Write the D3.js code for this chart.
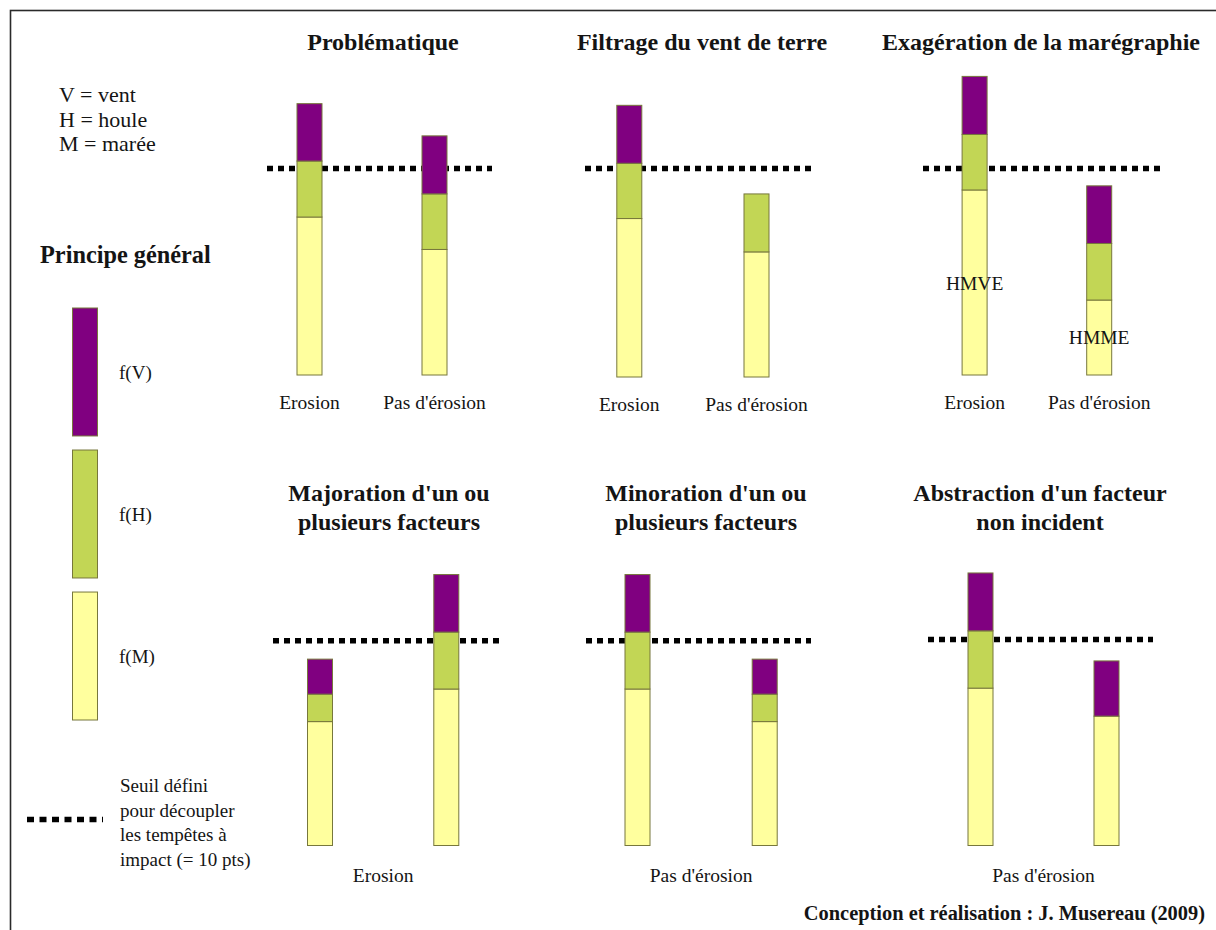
<!DOCTYPE html>
<html>
<head>
<meta charset="utf-8">
<script src="https://cdn.jsdelivr.net/npm/d3@7"></script>
<style>
  html, body { margin: 0; padding: 0; background: #ffffff; }
  svg { display: block; }
</style>
</head>
<body>
<svg id="chart" width="1216" height="930"></svg>
<script>
// ---------------- DATA ----------------
const factors = ["M", "H", "V"];                     // stacking order, bottom to top
const factorNames = ["M = marée", "H = houle", "V = vent"];
const factorFunctions = ["f(M)", "f(H)", "f(V)"];
const barCategories = ["Erosion", "Pas d'érosion"];
const panelTitles = [
  ["Problématique"],
  ["Filtrage du vent de terre"],
  ["Exagération de la marégraphie"],
  ["Majoration d'un ou", "plusieurs facteurs"],
  ["Minoration d'un ou", "plusieurs facteurs"],
  ["Abstraction d'un facteur", "non incident"]
];
// points per factor, per panel, [Erosion bar, Pas d'érosion bar]
const valuesM = [[7.65, 6.08], [7.6, 6.0], [8.96, 3.63], [6.05, 7.64], [7.64, 6.05], [7.64, 6.28]];
const valuesH = [[2.71, 2.69], [2.65, 2.78], [2.69, 2.74], [1.34, 2.78], [2.78, 1.34], [2.78, 0]];
const valuesV = [[2.78, 2.81], [2.78, 0], [2.81, 2.79], [1.71, 2.81], [2.81, 1.71], [2.81, 2.68]];
const threshold = 10;                                // "Seuil ... (= 10 pts)"
const topRowLabels = ["Erosion", "Pas d'érosion"];
const bottomRowLabels = ["Erosion", "Pas d'érosion", "Pas d'érosion"];
const innerLabels = ["HMVE", "HMME"];                // panel 3
const thresholdText = ["Seuil défini", "pour découpler", "les tempêtes à", "impact (= 10 pts)"];
const sideTitle = "Principe général";
const credit = "Conception et réalisation : J. Musereau (2009)";

// ---------------- STYLE / LAYOUT ----------------
const FONT = "'Liberation Serif', 'Times New Roman', Times, 'DejaVu Serif', serif";
const colors = { V: "#800080", H: "#c2d655", M: "#ffff9e" };
const barStroke = "#77773c";
const W = 1216, H = 930;
const barWidth = 25;

// per panel geometry: bar centers, baseline, threshold pixel, dotted-line extent, title centre
const panels = [
  { c: [309.5, 434.5], base: 375, thr: 168.5, line: [267, 492], tx: 383, ty: 50 },
  { c: [629.3, 756.5], base: 377, thr: 168.5, line: [585, 811], tx: 702, ty: 50 },
  { c: [974.6, 1099.2], base: 375, thr: 168.5, line: [923, 1162], tx: 1041, ty: 50 },
  { c: [320, 446.3], base: 845.5, thr: 640.7, line: [273, 499], tx: 389, ty: 501 },
  { c: [637.5, 764.7], base: 845.5, thr: 640.7, line: [586, 811], tx: 706, ty: 501 },
  { c: [980.5, 1106.5], base: 845.5, thr: 639.5, line: [928, 1153], tx: 1040, ty: 501 }
];

const svg = d3.select("#chart")
  .attr("font-family", FONT)
  .style("font-family", FONT);

// frame (top and left edges visible, rest runs off the picture)
svg.append("rect")
  .attr("x", 10.5).attr("y", 10.5)
  .attr("width", W + 20).attr("height", H + 20)
  .attr("fill", "none").attr("stroke", "#2a2a2a").attr("stroke-width", 1.6);

const stack = d3.stack().keys(factors);

function txt(sel) {
  return sel.attr("font-family", FONT).style("font-family", FONT).attr("fill", "#141414");
}

panels.forEach((p, i) => {
  const g = svg.append("g");
  const x = d3.scalePoint().domain(barCategories).range(p.c);
  const y = d3.scaleLinear().domain([0, threshold]).range([p.base, p.thr]);

  // title
  const t = txt(g.append("text"))
    .attr("x", p.tx).attr("y", p.ty)
    .attr("text-anchor", "middle")
    .style("font-weight", "bold").style("font-size", "24px");
  panelTitles[i].forEach((line, k) => {
    t.append("tspan").attr("x", p.tx).attr("dy", k === 0 ? 0 : 29).text(line);
  });

  // threshold dotted line (behind bars)
  g.append("line")
    .attr("x1", p.line[0]).attr("x2", p.line[1])
    .attr("y1", y(threshold)).attr("y2", y(threshold))
    .attr("stroke", "#000").attr("stroke-width", 5.5)
    .attr("stroke-dasharray", "6,5");

  // stacked bars
  const rows = barCategories.map((cat, j) => ({
    cat, M: valuesM[i][j], H: valuesH[i][j], V: valuesV[i][j]
  }));
  const series = stack(rows);
  series.forEach(s => {
    g.selectAll(null)
      .data(s.filter(d => d[1] - d[0] > 0))
      .join("rect")
      .attr("x", d => x(d.data.cat) - barWidth / 2)
      .attr("width", barWidth)
      .attr("y", d => y(d[1]))
      .attr("height", d => y(d[0]) - y(d[1]))
      .attr("fill", colors[s.key])
      .attr("stroke", barStroke).attr("stroke-width", 1);
  });

  // category labels
  if (i < 3) {
    txt(g.selectAll(null).data(topRowLabels).join("text"))
      .attr("x", d => x(d)).attr("y", p.base + 34)
      .attr("text-anchor", "middle").style("font-size", "19.5px")
      .text(d => d);
  } else {
    txt(g.append("text"))
      .attr("x", (x(barCategories[0]) + x(barCategories[1])) / 2)
      .attr("y", p.base + 36.5)
      .attr("text-anchor", "middle").style("font-size", "19.5px")
      .text(bottomRowLabels[i - 3]);
  }

  // inner labels for panel 3
  if (i === 2) {
    const inner = [
      { cat: barCategories[0], v: valuesM[i][0] * 0.46 },
      { cat: barCategories[1], v: valuesM[i][1] * 0.42 }
    ];
    txt(g.selectAll(null).data(inner).join("text"))
      .attr("x", d => x(d.cat)).attr("y", d => y(d.v))
      .attr("text-anchor", "middle").style("font-size", "19.5px")
      .text((d, k) => innerLabels[k]);
  }
});

// ---------------- LEFT LEGEND ----------------
const leg = svg.append("g");
txt(leg.selectAll(null).data(factorNames.slice().reverse()).join("text"))
  .attr("x", 59).attr("y", (d, k) => 102 + k * 24.5)
  .style("font-size", "22px").text(d => d);

txt(leg.append("text")).attr("x", 40).attr("y", 263)
  .style("font-weight", "bold").style("font-size", "24.3px").text(sideTitle);

const ly = d3.scaleBand().domain(factors.slice().reverse()).range([308, 720]).paddingInner(0.099);
leg.selectAll(null).data(factors.slice().reverse()).join("rect")
  .attr("x", 72.5).attr("width", barWidth)
  .attr("y", d => ly(d)).attr("height", ly.bandwidth())
  .attr("fill", d => colors[d])
  .attr("stroke", barStroke).attr("stroke-width", 1);
txt(leg.selectAll(null).data(factors.slice().reverse()).join("text"))
  .attr("x", 119).attr("y", d => ly(d) + ly.bandwidth() / 2 + 7)
  .style("font-size", "19px")
  .text(d => factorFunctions[factors.indexOf(d)]);

leg.append("line")
  .attr("x1", 27).attr("x2", 103).attr("y1", 819.5).attr("y2", 819.5)
  .attr("stroke", "#000").attr("stroke-width", 5.5)
  .attr("stroke-dasharray", "7,5.5");
txt(leg.selectAll(null).data(thresholdText).join("text"))
  .attr("x", 120).attr("y", (d, k) => 792 + k * 24.5)
  .style("font-size", "19px").text(d => d);

// credit
txt(svg.append("text")).attr("x", 1205).attr("y", 920)
  .attr("text-anchor", "end")
  .style("font-weight", "bold").style("font-size", "20.4px").text(credit);
</script>
</body>
</html>
